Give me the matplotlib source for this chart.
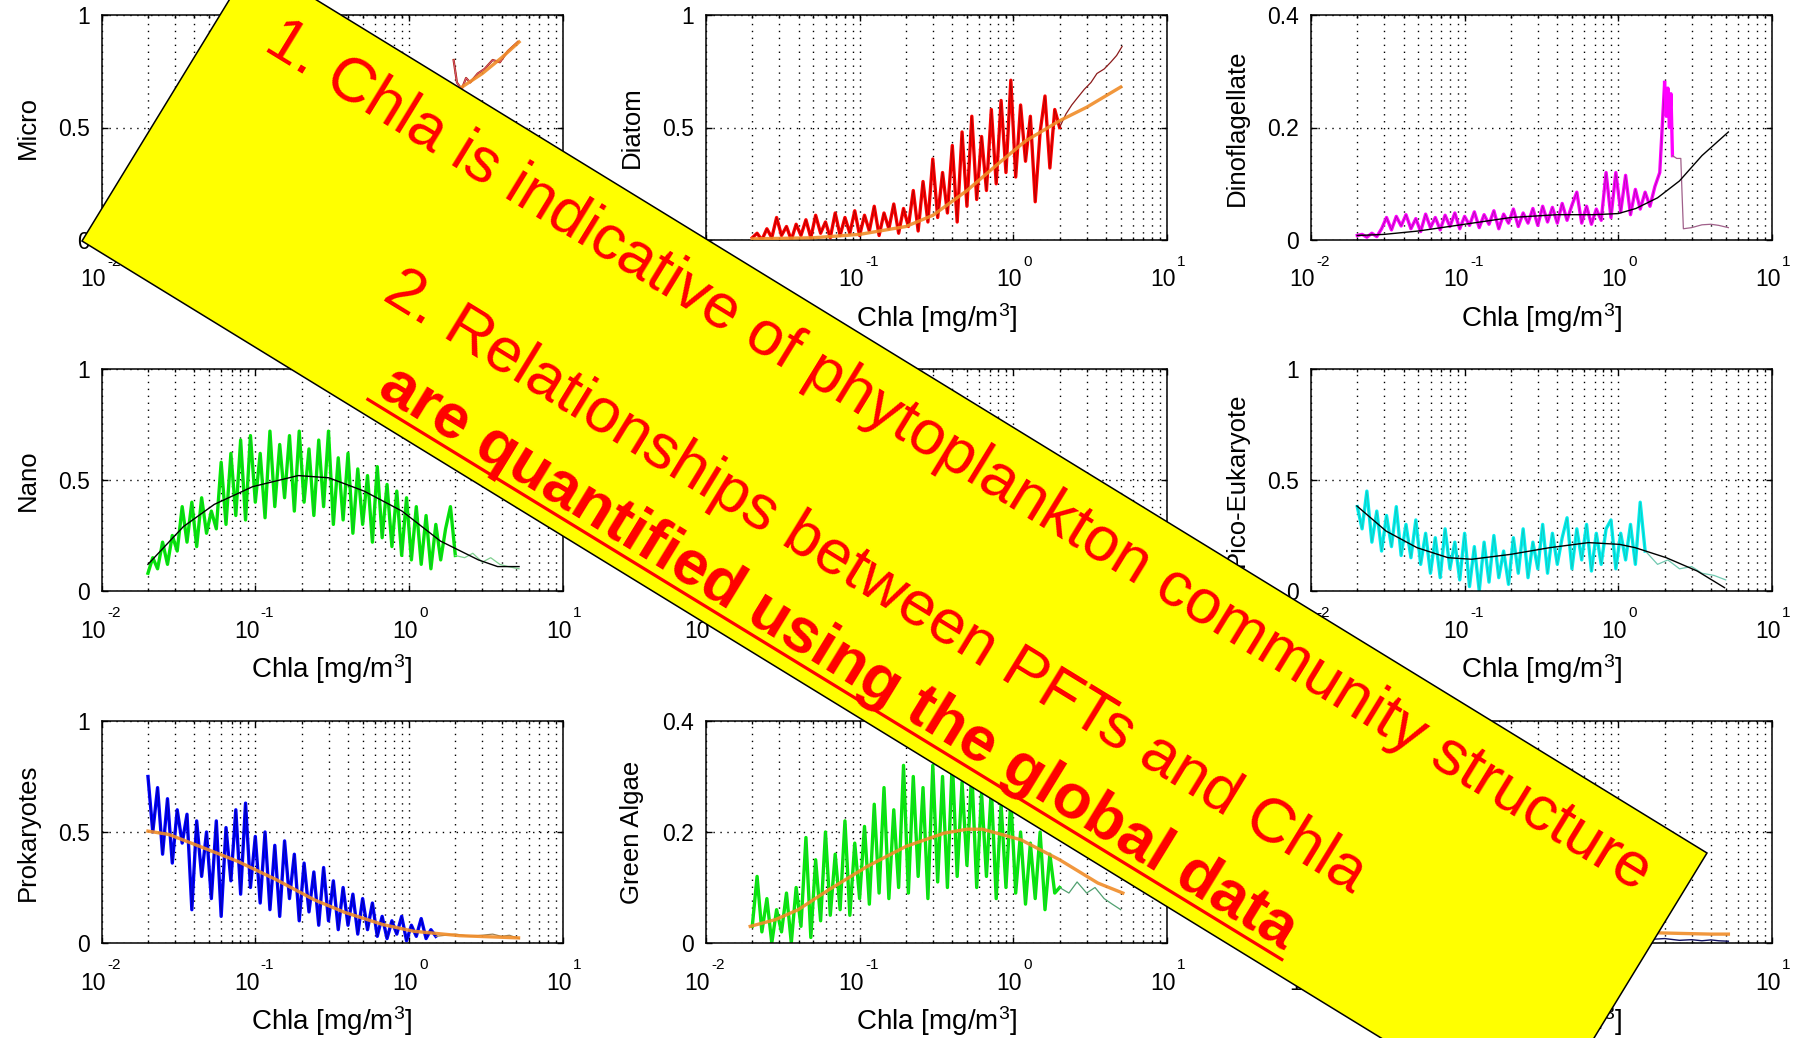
import numpy as np
import matplotlib
matplotlib.use("Agg")
import matplotlib.pyplot as plt
from matplotlib.patches import Polygon
from matplotlib.lines import Line2D
from matplotlib.ticker import FixedLocator, LogLocator, NullFormatter

plt.rcParams['font.family'] = ['Liberation Sans', 'DejaVu Sans']
plt.rcParams['mathtext.fontset'] = 'custom'
plt.rcParams['mathtext.rm'] = 'Liberation Sans'
plt.rcParams['mathtext.it'] = 'Liberation Sans:italic'

# ---------------- data ----------------
# Chla sampling points for the noisy binned traces [mg/m3]
CHLA_GRID = [0.0200, 0.0215, 0.0231, 0.0249, 0.0268, 0.0288, 0.0310, 0.0334, 0.0359, 0.0386,
             0.0415, 0.0447, 0.0481, 0.0517, 0.0557, 0.0599, 0.0644, 0.0693, 0.0746, 0.0802,
             0.0863, 0.0929, 0.0999, 0.1075, 0.1156, 0.1244, 0.1338, 0.1440, 0.1549, 0.1667,
             0.1793, 0.1929, 0.2075, 0.2233, 0.2402, 0.2584, 0.2780, 0.2991, 0.3218, 0.3462,
             0.3724, 0.4007, 0.4311, 0.4638, 0.4989, 0.5368, 0.5775, 0.6213, 0.6684, 0.7191,
             0.7737, 0.8323, 0.8954, 0.9633, 1.036, 1.115, 1.200, 1.291, 1.388, 1.494,
             1.607, 1.729, 1.860, 2.001]

# Micro (mostly hidden by the banner)
micro_noisy = [0.05, 0.03, 0.07, 0.04, 0.10, 0.07, 0.14, 0.10, 0.22, 0.28, 0.42, 0.38, 0.58, 0.52, 0.70, 0.66]
micro_tail_x = [1.95, 2.05, 2.2, 2.35, 2.5, 2.8, 3.1, 3.5, 3.9, 4.4, 5.1]
micro_tail_y = [0.80, 0.70, 0.67, 0.72, 0.70, 0.74, 0.76, 0.80, 0.79, 0.84, 0.88]
micro_fit_x = [0.02, 0.05, 0.1, 0.2, 0.5, 1.0, 2.0, 3.0, 4.0, 5.2]
micro_fit_y = [0.03, 0.05, 0.08, 0.14, 0.33, 0.52, 0.66, 0.74, 0.81, 0.88]

# Diatom
diatom_noisy = [0.01, 0.03, 0.00, 0.05, 0.01, 0.10, 0.02, 0.06, 0.00, 0.07,
                0.02, 0.09, 0.01, 0.11, 0.03, 0.08, 0.01, 0.12, 0.02, 0.10,
                0.03, 0.13, 0.02, 0.11, 0.04, 0.15, 0.02, 0.12, 0.05, 0.16,
                0.03, 0.14, 0.06, 0.22, 0.04, 0.26, 0.08, 0.36, 0.10, 0.30,
                0.12, 0.42, 0.08, 0.48, 0.15, 0.55, 0.18, 0.46, 0.22, 0.58,
                0.25, 0.62, 0.30, 0.71, 0.28, 0.60, 0.35, 0.55, 0.17, 0.48,
                0.64, 0.32, 0.58, 0.50]
diatom_tail_x = [2.0, 2.2, 2.4, 2.6, 2.9, 3.2, 3.5, 3.9, 4.3, 4.7, 5.1]
diatom_tail_y = [0.50, 0.56, 0.60, 0.63, 0.67, 0.70, 0.74, 0.76, 0.79, 0.82, 0.86]
diatom_fit_x = [0.02, 0.05, 0.1, 0.2, 0.3, 0.5, 0.8, 1.2, 2.0, 3.0, 5.0]
diatom_fit_y = [0.005, 0.01, 0.025, 0.06, 0.11, 0.22, 0.34, 0.44, 0.53, 0.59, 0.68]

# Dinoflagellate
dino_noisy = [0.008, 0.010, 0.005, 0.012, 0.006, 0.020, 0.040, 0.018, 0.042, 0.025,
              0.045, 0.020, 0.038, 0.015, 0.046, 0.022, 0.040, 0.018, 0.044, 0.024,
              0.048, 0.020, 0.042, 0.026, 0.050, 0.022, 0.045, 0.028, 0.052, 0.020,
              0.046, 0.030, 0.055, 0.024, 0.048, 0.030, 0.056, 0.026, 0.060, 0.032,
              0.058, 0.030, 0.065, 0.035, 0.062, 0.085, 0.030, 0.060, 0.028, 0.055,
              0.035, 0.120, 0.040, 0.120, 0.050, 0.115, 0.045, 0.090, 0.055, 0.085,
              0.060, 0.095, 0.120, 0.280]
dino_peak_x = [2.0, 2.05, 2.1, 2.15, 2.2, 2.25]
dino_peak_y = [0.28, 0.22, 0.27, 0.20, 0.26, 0.15]
dino_tail_x = [2.25, 2.4, 2.55, 2.6, 2.65, 3.0, 3.5, 4.0, 4.5, 5.2]
dino_tail_y = [0.15, 0.145, 0.145, 0.08, 0.02, 0.022, 0.027, 0.028, 0.026, 0.022]
dino_fit_x = [0.02, 0.03, 0.05, 0.1, 0.2, 0.4, 0.7, 1.0, 1.3, 1.8, 2.5, 3.5, 5.2]
dino_fit_y = [0.008, 0.010, 0.016, 0.028, 0.040, 0.045, 0.045, 0.047, 0.056, 0.075, 0.105, 0.150, 0.192]

# Nano
nano_noisy = [0.08, 0.15, 0.10, 0.22, 0.12, 0.25, 0.18, 0.38, 0.22, 0.40,
              0.20, 0.42, 0.26, 0.36, 0.28, 0.58, 0.30, 0.62, 0.34, 0.68,
              0.32, 0.70, 0.40, 0.62, 0.33, 0.72, 0.38, 0.66, 0.42, 0.70,
              0.36, 0.72, 0.40, 0.64, 0.34, 0.68, 0.38, 0.72, 0.30, 0.60,
              0.32, 0.62, 0.26, 0.55, 0.30, 0.52, 0.22, 0.56, 0.24, 0.48,
              0.20, 0.45, 0.16, 0.42, 0.14, 0.38, 0.12, 0.34, 0.10, 0.30,
              0.14, 0.28, 0.38, 0.16]
nano_tail_x = [2.0, 2.3, 2.6, 3.0, 3.4, 3.9, 4.4, 5.2]
nano_tail_y = [0.16, 0.15, 0.17, 0.13, 0.15, 0.12, 0.11, 0.10]
nano_fit_x = [0.020, 0.034, 0.054, 0.096, 0.19, 0.30, 0.51, 0.90, 1.6, 2.83, 3.77, 5.2]
nano_fit_y = [0.12, 0.29, 0.39, 0.47, 0.52, 0.51, 0.45, 0.36, 0.225, 0.14, 0.11, 0.11]

# Pico-Eukaryote
pico_noisy = [0.38, 0.28, 0.45, 0.22, 0.36, 0.18, 0.34, 0.20, 0.38, 0.16,
              0.30, 0.15, 0.32, 0.12, 0.26, 0.08, 0.24, 0.06, 0.28, 0.10,
              0.22, 0.05, 0.26, 0.02, 0.20, 0.00, 0.22, 0.04, 0.25, 0.06,
              0.18, 0.03, 0.24, 0.08, 0.28, 0.06, 0.22, 0.10, 0.30, 0.08,
              0.26, 0.12, 0.24, 0.33, 0.10, 0.28, 0.14, 0.30, 0.09, 0.26,
              0.12, 0.28, 0.32, 0.10, 0.26, 0.14, 0.30, 0.12, 0.40, 0.18]
pico_tail_x = [1.5, 1.8, 2.1, 2.5, 3.0, 3.5, 4.2, 5.0]
pico_tail_y = [0.18, 0.12, 0.14, 0.10, 0.11, 0.08, 0.07, 0.05]
pico_fit_x = [0.0199, 0.0308, 0.049, 0.078, 0.111, 0.199, 0.356, 0.64, 1.02, 1.29, 2.05, 3.26, 4.91]
pico_fit_y = [0.383, 0.27, 0.195, 0.15, 0.143, 0.165, 0.195, 0.218, 0.21, 0.195, 0.15, 0.09, 0.015]

# Prokaryotes
prok_noisy = [0.75, 0.50, 0.70, 0.40, 0.65, 0.36, 0.60, 0.45, 0.58, 0.15,
              0.55, 0.30, 0.50, 0.20, 0.55, 0.12, 0.52, 0.28, 0.60, 0.22,
              0.63, 0.25, 0.48, 0.18, 0.50, 0.15, 0.44, 0.12, 0.46, 0.20,
              0.40, 0.10, 0.36, 0.14, 0.32, 0.08, 0.34, 0.10, 0.28, 0.06,
              0.25, 0.08, 0.22, 0.04, 0.20, 0.06, 0.18, 0.03, 0.12, 0.02,
              0.10, 0.04, 0.12, 0.01, 0.08, 0.03, 0.11, 0.02, 0.06, 0.03]
prok_tail_x = [1.5, 2.0, 2.5, 3.0, 3.5, 4.0, 4.5, 5.2]
prok_tail_y = [0.03, 0.04, 0.03, 0.035, 0.04, 0.03, 0.035, 0.02]
prok_fit_x = [0.020, 0.0273, 0.0432, 0.0766, 0.136, 0.241, 0.381, 0.676, 1.07, 2.13, 5.16]
prok_fit_y = [0.504, 0.489, 0.436, 0.368, 0.286, 0.195, 0.138, 0.083, 0.053, 0.033, 0.023]

# Green Algae
green_noisy = [0.03, 0.12, 0.02, 0.08, 0.00, 0.06, 0.02, 0.09, 0.00, 0.10,
               0.03, 0.19, 0.01, 0.15, 0.04, 0.20, 0.05, 0.16, 0.06, 0.22,
               0.05, 0.18, 0.08, 0.21, 0.07, 0.25, 0.09, 0.28, 0.08, 0.24,
               0.10, 0.32, 0.09, 0.30, 0.12, 0.28, 0.08, 0.32, 0.11, 0.30,
               0.10, 0.33, 0.12, 0.29, 0.14, 0.31, 0.10, 0.27, 0.12, 0.28,
               0.08, 0.25, 0.10, 0.26, 0.09, 0.20, 0.07, 0.18, 0.08, 0.20,
               0.06, 0.16, 0.09, 0.10]
green_tail_x = [2.0, 2.3, 2.6, 3.0, 3.4, 3.9, 4.4, 5.0]
green_tail_y = [0.10, 0.09, 0.11, 0.09, 0.10, 0.08, 0.07, 0.06]
green_fit_x = [0.0194, 0.0282, 0.0398, 0.063, 0.112, 0.2, 0.355, 0.5, 0.63, 1.12, 2.0, 3.55, 5.16]
green_fit_y = [0.030, 0.042, 0.060, 0.096, 0.138, 0.174, 0.198, 0.205, 0.205, 0.186, 0.15, 0.108, 0.09]

# ninth panel (only the high-Chla end is visible)
ninth_tail_x = [1.0, 1.5, 2.0, 2.5, 3.0, 3.5, 4.0, 4.5, 5.2]
ninth_tail_y = [0.02, 0.015, 0.02, 0.012, 0.015, 0.01, 0.014, 0.01, 0.008]
ninth_fit_x = [1.0, 2.0, 3.0, 4.0, 5.2]
ninth_fit_y = [0.05, 0.045, 0.042, 0.04, 0.04]

panel_labels = ['Micro', 'Diatom', 'Dinoflagellate',
                'Nano', '', 'Pico-Eukaryote',
                'Prokaryotes', 'Green Algae', '']
panel_ymax = [1, 1, 0.4, 1, 1, 1, 1, 0.4, 1]
x_major = [0.01, 0.1, 1, 10]
x_exp = ['-2', '-1', '0', '1']
yticks_1 = [0, 0.5, 1]
yticks_1_lab = ['0', '0.5', '1']
yticks_04 = [0, 0.2, 0.4]
yticks_04_lab = ['0', '0.2', '0.4']

banner_lines = ['1. Chla is indicative of phytoplankton community structure',
                '2. Relationships between PFTs and Chla',
                'are quantified using the global data']

# ---------------- figure ----------------
W, H = 1810.0, 1038.0
fig = plt.figure(figsize=(W / 100, H / 100), dpi=100)

col_left = [101.7, 706, 1311]
row_top = [15, 369, 721]
row_bot = [240, 591, 943]
ax_w = 461.0

GRID_STYLE = dict(color='k', linewidth=1.0, linestyle=(0, (1, 4)))

axes = []
for r in range(3):
    for c in range(3):
        h = row_bot[r] - row_top[r]
        ax = fig.add_axes([col_left[c] / W, 1 - row_bot[r] / H, ax_w / W, h / H])
        axes.append(ax)

for i, ax in enumerate(axes):
    ymax = panel_ymax[i]
    ax.set_xscale('log')
    ax.set_xlim(0.01, 10)
    ax.set_ylim(0, ymax)
    if ymax == 1:
        ax.set_yticks(yticks_1)
        ax.set_yticklabels(yticks_1_lab)
    else:
        ax.set_yticks(yticks_04)
        ax.set_yticklabels(yticks_04_lab)
    ax.xaxis.set_major_locator(FixedLocator(x_major))
    ax.xaxis.set_minor_locator(LogLocator(base=10, subs=np.arange(2, 10)))
    ax.xaxis.set_minor_formatter(NullFormatter())
    ax.set_xticklabels([])
    ax.grid(True, which='both', axis='x', **GRID_STYLE)
    ax.grid(True, which='major', axis='y', **GRID_STYLE)
    ax.set_axisbelow(True)
    ax.tick_params(which='both', direction='in', top=True, right=True, width=1.0)
    ax.tick_params(which='major', length=4)
    ax.tick_params(which='minor', length=2.5)
    ax.tick_params(axis='y', labelsize=16.5, pad=8.5)
    for s in ax.spines.values():
        s.set_linewidth(1.1)
    # MATLAB-like 10^n labels
    for xt, ex in zip(x_major, x_exp):
        j = 13.5 - 4.75 * len(ex)
        ax.annotate('10', xy=(xt, 0), xycoords=('data', 'axes fraction'),
                    xytext=(j * 0.72, -40 * 0.72), textcoords='offset points',
                    ha='right', va='center', fontsize=16.5, annotation_clip=False)
        ax.annotate(ex, xy=(xt, 0), xycoords=('data', 'axes fraction'),
                    xytext=((j + 1.5) * 0.72, -22 * 0.72), textcoords='offset points',
                    ha='left', va='center', fontsize=11, annotation_clip=False)
    ax.set_xlabel(r'Chla [mg/m$^{\mathrm{3}}$]', fontsize=20, va='center')
    ax.xaxis.set_label_coords(0.5, -78.0 / (row_bot[i // 3] - row_top[i // 3]))
    if panel_labels[i]:
        ax.set_ylabel(panel_labels[i], fontsize=18.5, va='center')
        ax.yaxis.set_label_coords(-74.0 / ax_w, 0.5)

FIT_ORANGE = '#f08c28'


def noisy(ax, vals, main, dark, step=1):
    xs = CHLA_GRID[::step][:len(vals)]
    ax.plot(xs, vals, color=main, lw=2.4, zorder=2)
    ax.plot(xs, vals, color=dark, lw=0.6, alpha=0.7, zorder=2)


# Micro
ax = axes[0]
noisy(ax, micro_noisy, '#e03c14', '#8b1a1a', step=4)
ax.plot(micro_tail_x, micro_tail_y, color='#b03010', lw=1.6, zorder=2)
ax.plot(micro_tail_x, micro_tail_y, color='#e060a0', lw=0.5, zorder=2)
ax.plot(micro_fit_x, micro_fit_y, color=FIT_ORANGE, lw=2.4, alpha=0.9, zorder=3)

# Diatom
ax = axes[1]
noisy(ax, diatom_noisy, '#ff0000', '#8b0000')
ax.plot(diatom_tail_x, diatom_tail_y, color='#8b1a1a', lw=0.9, zorder=2)
ax.plot(diatom_fit_x, diatom_fit_y, color=FIT_ORANGE, lw=2.4, alpha=0.9, zorder=3)

# Dinoflagellate
ax = axes[2]
noisy(ax, dino_noisy, '#ff00ff', '#8a1a8a')
ax.plot(dino_peak_x, dino_peak_y, color='#ff00ff', lw=2.4, zorder=2)
ax.plot(dino_tail_x, dino_tail_y, color='#a0608a', lw=0.9, zorder=2)
ax.plot(dino_fit_x, dino_fit_y, color='k', lw=1.0, zorder=3)

# Nano
ax = axes[3]
noisy(ax, nano_noisy, '#00f000', '#20a040')
ax.plot(nano_tail_x, nano_tail_y, color='#80d090', lw=0.9, zorder=2)
ax.plot(nano_fit_x, nano_fit_y, color='k', lw=1.0, zorder=3)

# Pico-Eukaryote
ax = axes[5]
noisy(ax, pico_noisy, '#00f0f0', '#20b0a0')
ax.plot(pico_tail_x, pico_tail_y, color='#70c8b0', lw=0.9, zorder=2)
ax.plot(pico_fit_x, pico_fit_y, color='k', lw=1.0, zorder=3)

# Prokaryotes
ax = axes[6]
noisy(ax, prok_noisy, '#0000ff', '#000080')
ax.plot(prok_tail_x, prok_tail_y, color='#a08050', lw=0.9, zorder=2)
ax.plot(prok_fit_x, prok_fit_y, color=FIT_ORANGE, lw=2.4, alpha=0.9, zorder=3)

# Green Algae
ax = axes[7]
noisy(ax, green_noisy, '#00f000', '#30b050')
ax.plot(green_tail_x, green_tail_y, color='#50a070', lw=0.9, zorder=2)
ax.plot(green_fit_x, green_fit_y, color=FIT_ORANGE, lw=2.4, alpha=0.9, zorder=3)

# ninth panel
ax = axes[8]
ax.plot(ninth_tail_x, ninth_tail_y, color='#101060', lw=1.0, zorder=2)
ax.plot(ninth_fit_x, ninth_fit_y, color=FIT_ORANGE, lw=2.4, alpha=0.9, zorder=3)

# ---------------- yellow banner ----------------
ang = 31.5
corners_px = [(253, -39), (1707, 853), (1536, 1133), (82, 241)]
banner = Polygon([(x / W, 1 - y / H) for x, y in corners_px], closed=True,
                 facecolor='#ffff00', edgecolor='k', linewidth=1.1,
                 transform=fig.transFigure, zorder=10, clip_on=False)
fig.add_artist(banner)

anchors_px = [(949.2, 470.7), (866.0, 596.9), (829.4, 671.7)]
weights = ['normal', 'normal', 'bold']
for s, (x, y), wgt in zip(banner_lines, anchors_px, weights):
    fig.text(x / W, 1 - y / H, s, rotation=-ang, rotation_mode='anchor',
             ha='center', va='baseline', fontsize=45.5, color='#ff0000',
             fontweight=wgt, zorder=11)

ul = Line2D([367.9 / W, 1281.8 / W], [1 - 399.4 / H, 1 - 959.5 / H],
            color='#ff0000', linewidth=2.3, transform=fig.transFigure, zorder=11)
fig.add_artist(ul)

fig.savefig('out.png', dpi=100, facecolor='white')
